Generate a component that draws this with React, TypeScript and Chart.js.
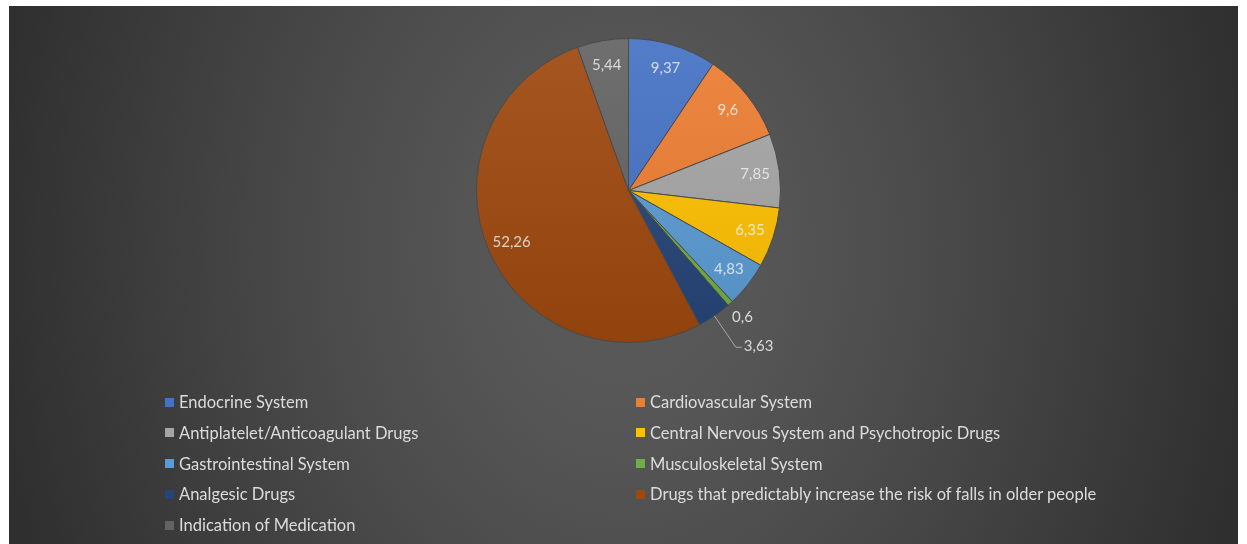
import React, { useEffect, useRef } from "react";
import { Chart, registerables } from "chart.js";

Chart.register(...registerables);

const categories = [
  "Endocrine System",
  "Cardiovascular System",
  "Antiplatelet/Anticoagulant Drugs",
  "Central Nervous System and Psychotropic Drugs",
  "Gastrointestinal System",
  "Musculoskeletal System",
  "Analgesic Drugs",
  "Drugs that predictably increase the risk of falls in older people",
  "Indication of Medication",
];

const values = [9.37, 9.6, 7.85, 6.35, 4.83, 0.6, 3.63, 52.26, 5.44];

const valueLabels = ["9,37", "9,6", "7,85", "6,35", "4,83", "0,6", "3,63", "52,26", "5,44"];

const colors = [
  "#4472C4",
  "#ED7D31",
  "#A5A5A5",
  "#FFC000",
  "#5B9BD5",
  "#70AD47",
  "#264478",
  "#9E480E",
  "#636363",
];

// label placement mode per slice: inside, outside, outside with leader line
const labelModes = ["in", "in", "in", "in", "in", "out", "leader", "in", "in"];

function shade(hex: string, amt: number): string {
  const n = parseInt(hex.slice(1), 16);
  let r = (n >> 16) & 255, g = (n >> 8) & 255, b = n & 255;
  const f = (c: number) => Math.max(0, Math.min(255, Math.round(amt >= 0 ? c + (255 - c) * amt : c * (1 + amt))));
  r = f(r); g = f(g); b = f(b);
  return `rgb(${r},${g},${b})`;
}

const FONT = "Lato, 'Open Sans', sans-serif";

const labelPlugin = {
  id: "sliceLabels",
  afterDatasetsDraw(chart: any) {
    const ctx = chart.ctx;
    const meta = chart.getDatasetMeta(0);
    ctx.save();
    ctx.font = `15px ${FONT}`;
    ctx.textBaseline = "middle";
    meta.data.forEach((arc: any, i: number) => {
      const p = arc.getProps(["x", "y", "startAngle", "endAngle", "outerRadius"], true);
      const mid = (p.startAngle + p.endAngle) / 2;
      const R = p.outerRadius;
      const mode = labelModes[i];
      if (mode === "in") {
        const r = R * 0.84;
        ctx.fillStyle = "rgba(242,242,242,0.8)";
        ctx.textAlign = "center";
        ctx.fillText(valueLabels[i], p.x + Math.cos(mid) * r, p.y + Math.sin(mid) * r);
      } else if (mode === "out") {
        const r = R * 1.12;
        ctx.fillStyle = "#d9d9d9";
        ctx.textAlign = "center";
        ctx.fillText(valueLabels[i], p.x + Math.cos(mid) * r, p.y + Math.sin(mid) * r);
      } else {
        const x0 = p.x + Math.cos(mid) * R;
        const y0 = p.y + Math.sin(mid) * R;
        const x1 = p.x + Math.cos(mid) * R * 1.25;
        const y1 = p.y + Math.sin(mid) * R * 1.25;
        ctx.strokeStyle = "#a6a6a6";
        ctx.lineWidth = 1;
        ctx.beginPath();
        ctx.moveTo(x0, y0);
        ctx.lineTo(x1, y1);
        ctx.lineTo(x1 + 6, y1);
        ctx.stroke();
        ctx.fillStyle = "#d9d9d9";
        ctx.textAlign = "left";
        ctx.fillText(valueLabels[i], x1 + 8, y1 - 1);
      }
    });
    ctx.restore();
  },
};

export default function App() {
  const ref = useRef<HTMLCanvasElement | null>(null);

  useEffect(() => {
    document.body.style.margin = "0";
    document.body.style.background = "#ffffff";
    const canvas = ref.current!;
    const chart = new Chart(canvas, {
      type: "pie",
      data: {
        labels: categories,
        datasets: [
          {
            data: values,
            backgroundColor: (c: any) => {
              const base = colors[c.dataIndex] || "#888";
              const area = c.chart.chartArea;
              if (!area) return base;
              const g = c.chart.ctx.createLinearGradient(0, area.top, 0, area.bottom);
              g.addColorStop(0, shade(base, 0.08));
              g.addColorStop(1, shade(base, -0.08));
              return g;
            },
            borderColor: "#4a4a4a",
            borderWidth: 1,
          },
        ],
      },
      options: {
        animation: false,
        responsive: false,
        maintainAspectRatio: false,
        layout: { padding: { left: 476, top: 38, right: 466, bottom: 201 } },
        plugins: {
          legend: { display: false },
          tooltip: { enabled: false },
          title: { display: false },
        },
      },
      plugins: [labelPlugin],
    });
    return () => chart.destroy();
  }, []);

  const legendRows: number[][] = [];
  for (let i = 0; i < categories.length; i += 2) legendRows.push([i, i + 1]);
  const colX = [165, 636];

  return (
    <div style={{ position: "relative", width: 1247, height: 544, background: "#fff", overflow: "hidden" }}>
      <div
        style={{
          position: "absolute",
          left: 9,
          top: 6,
          width: 1229,
          height: 538,
          background:
            "radial-gradient(ellipse 52% 150% at 50% 45%, #5b5b5b 0%, #565656 22%, #4c4c4c 45%, #3e3e3e 72%, #2f2f2f 100%)",
        }}
      />
      <canvas ref={ref} width={1247} height={544} style={{ position: "absolute", left: 0, top: 0 }} />
      {legendRows.map((row, ri) =>
        row.map((idx, ci) =>
          idx < categories.length ? (
            <div
              key={idx}
              style={{
                position: "absolute",
                left: colX[ci],
                top: 402 + ri * 30.8 - 10,
                height: 20,
                display: "flex",
                alignItems: "center",
                font: `16.5px ${FONT}`,
                color: "#dcdcdc",
                whiteSpace: "nowrap",
              }}
            >
              <span
                style={{
                  display: "inline-block",
                  width: 9,
                  height: 9,
                  background: colors[idx],
                  marginRight: 5,
                }}
              />
              <span>{categories[idx]}</span>
            </div>
          ) : null
        )
      )}
    </div>
  );
}
